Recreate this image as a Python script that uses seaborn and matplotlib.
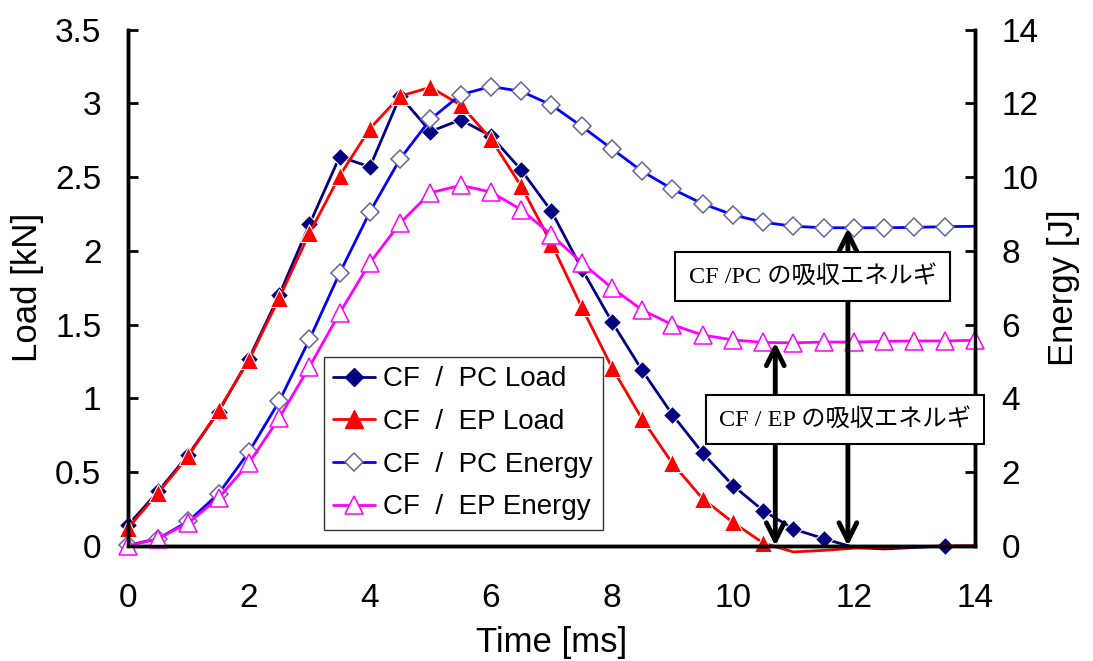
import matplotlib
matplotlib.use("Agg")
import matplotlib.pyplot as plt
import seaborn as sns
import pandas as pd
from matplotlib.lines import Line2D
from matplotlib.ticker import FormatStrFormatter, MultipleLocator

# data
time = [0.0, 0.5, 1.0, 1.5, 2.0, 2.5, 3.0, 3.5, 4.0, 4.5, 5.0, 5.5, 6.0, 6.5, 7.0,
        7.5, 8.0, 8.5, 9.0, 9.5, 10.0, 10.5, 11.0, 11.5, 12.0, 12.5, 13.0, 13.5, 14.0]

pc_load = [0.14, 0.37, 0.62, 0.91, 1.27, 1.70, 2.18, 2.64, 2.57, 3.05, 2.81, 2.89, 2.78, 2.55, 2.27,
           1.88, 1.52, 1.19, 0.89, 0.63, 0.41, 0.24, 0.115, 0.05, -0.01, -0.02, -0.01, 0.0, 0.0]
ep_load = [0.12, 0.36, 0.61, 0.92, 1.26, 1.68, 2.12, 2.51, 2.83, 3.05, 3.11, 2.99, 2.76, 2.44, 2.05,
           1.62, 1.21, 0.86, 0.56, 0.32, 0.16, 0.02, -0.04, -0.03, -0.015, -0.01, -0.005, 0.0, 0.0]
pc_energy = [0.02, 0.2, 0.67, 1.42, 2.55, 3.92, 5.6, 7.4, 9.06, 10.5, 11.57, 12.24, 12.46, 12.33, 11.96,
             11.38, 10.77, 10.16, 9.68, 9.28, 8.98, 8.78, 8.67, 8.63, 8.63, 8.63, 8.64, 8.66, 8.67]
ep_energy = [0.0, 0.2, 0.63, 1.3, 2.25, 3.47, 4.86, 6.32, 7.68, 8.76, 9.58, 9.78, 9.6, 9.12, 8.44,
             7.68, 7.0, 6.4, 6.0, 5.72, 5.59, 5.52, 5.51, 5.53, 5.53, 5.55, 5.56, 5.56, 5.58]

labels = ["CF  /  PC Load", "CF  /  EP Load", "CF  /  PC Energy", "CF  /  EP Energy"]
box_pc = "CF /PC の吸収エネルギ"
box_ep = "CF / EP の吸収エネルギ"
arrow_pc_t = 11.9
arrow_ep_t = 10.7

df = pd.DataFrame({"time": time, "pc_load": pc_load, "ep_load": ep_load,
                   "pc_energy": pc_energy, "ep_energy": ep_energy})

sns.set_style("white")
plt.rcParams["font.family"] = ["Liberation Sans", "DejaVu Sans"]
for k in ("text.color", "axes.labelcolor", "xtick.color", "ytick.color"):
    plt.rcParams[k] = "black"

fig = plt.figure(figsize=(10.93, 6.61), dpi=100)
ax = fig.add_axes([0.117, 0.174, 0.775, 0.781])
ax2 = ax.twinx()

# line styles, shared by the plot and the legend handles
st_pc_load = dict(color="#000080", lw=2, marker="D", markersize=9.5)
st_ep_load = dict(color="#FF0000", lw=2, marker="^", markersize=12.5)
st_pc_energy = dict(color="#0000FF", lw=2, marker="D", markersize=9.5, markerfacecolor="white",
                    markeredgecolor="#666699", markeredgewidth=1.1)
st_ep_energy = dict(color="#FF00FF", lw=2, marker="^", markersize=12.5, markerfacecolor="white",
                    markeredgecolor="#FF00FF", markeredgewidth=1.1)

pc_marks = list(range(0, 24)) + [27]
ep_marks = list(range(0, 22))

sns.lineplot(data=df, x="time", y="pc_load", ax=ax, markevery=pc_marks, clip_on=False, sort=False, **st_pc_load)
sns.lineplot(data=df, x="time", y="ep_load", ax=ax, markevery=ep_marks, clip_on=False, sort=False, **st_ep_load)
sns.lineplot(data=df, x="time", y="pc_energy", ax=ax2, markevery=list(range(0, 28)), clip_on=False,
             sort=False, **st_pc_energy)
sns.lineplot(data=df, x="time", y="ep_energy", ax=ax2, clip_on=False, sort=False, **st_ep_energy)

ax.set_xlim(0, 14)
ax.set_ylim(0, 3.5)
ax2.set_ylim(0, 14)
ax.xaxis.set_major_locator(MultipleLocator(2))
ax.yaxis.set_major_locator(MultipleLocator(0.5))
ax2.yaxis.set_major_locator(MultipleLocator(2))
ax.yaxis.set_major_formatter(FormatStrFormatter("%g"))

ax.set_xlabel("Time [ms]", fontsize=25, labelpad=8)
ax.set_ylabel("Load [kN]", fontsize=25, labelpad=8)
ax2.set_ylabel("Energy [J]", fontsize=25, labelpad=6)

for a in (ax, ax2):
    a.tick_params(direction="in", length=7, width=2, labelsize=24, pad=19)
    for side in ("left", "bottom", "right"):
        a.spines[side].set_visible(True)
        a.spines[side].set_linewidth(2.5)
        a.spines[side].set_color("black")
    a.spines["top"].set_visible(False)
ax.tick_params(axis="x", pad=27)
ax2.tick_params(left=False, right=True)
ax.tick_params(right=False)

# arrows from zero load up to the final absorbed energy
for t, top in ((arrow_pc_t, pc_energy[-1] - 0.05), (arrow_ep_t, ep_energy[21])):
    ax2.annotate("", xy=(t, top), xytext=(t, 0), zorder=5,
                 arrowprops=dict(arrowstyle="<->", lw=3.5, color="black",
                                 mutation_scale=32, shrinkA=0, shrinkB=0))

box_kw = dict(boxstyle="square,pad=0.55", facecolor="white", edgecolor="black", lw=1.5)
ax2.text(11.32, 7.31, box_pc, ha="center", va="center", fontsize=17.5, zorder=6,
         family=["Liberation Serif", "Noto Sans CJK JP"], bbox=box_kw)
ax2.text(11.85, 3.43, box_ep, ha="center", va="center", fontsize=17.5, zorder=6,
         family=["Liberation Serif", "Noto Sans CJK JP"], bbox=box_kw)

handles = [Line2D([], [], **s) for s in (st_pc_load, st_ep_load, st_pc_energy, st_ep_energy)]
leg = ax2.legend(handles, labels, loc="lower left", bbox_to_anchor=(0.231, 0.031),
                 borderaxespad=0, fontsize=20, frameon=True, fancybox=False,
                 handlelength=1.5, handletextpad=0.3, labelspacing=0.6, borderpad=0.35)
leg.get_frame().set_edgecolor("black")
leg.get_frame().set_linewidth(1.0)
leg.set_zorder(7)

fig.savefig("out.png", dpi=100)
